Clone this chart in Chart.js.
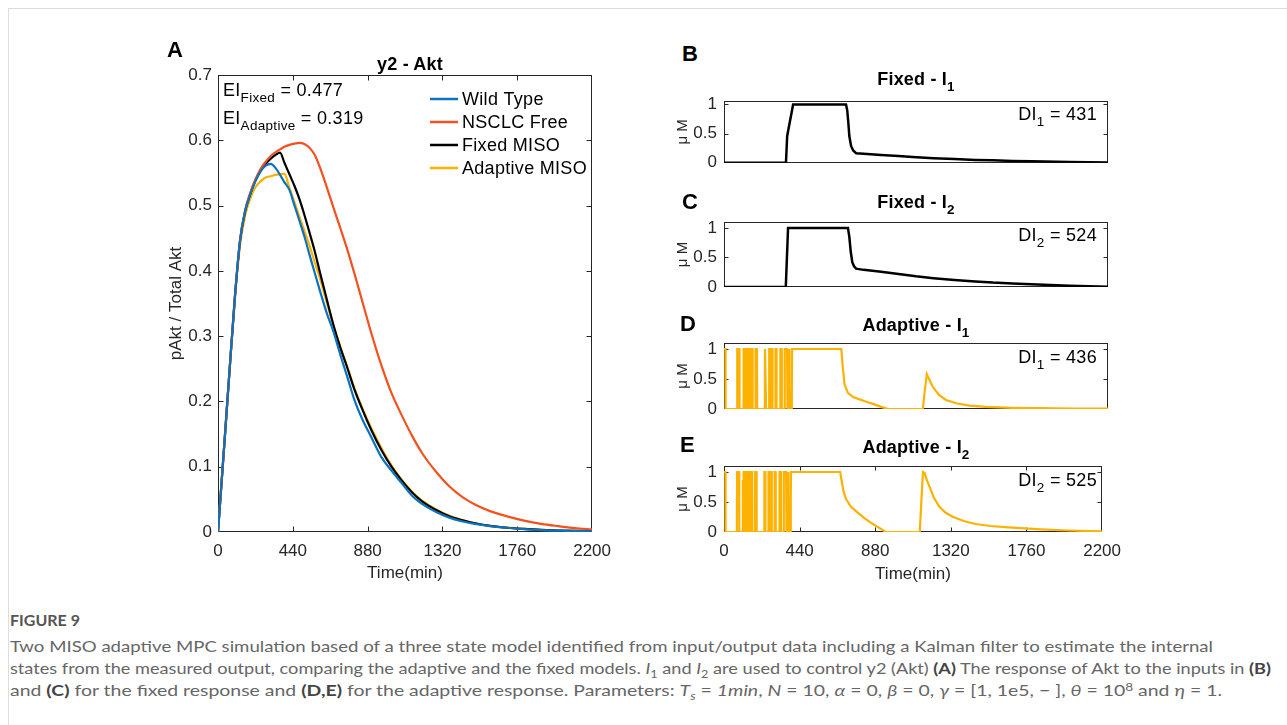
<!DOCTYPE html>
<html><head><meta charset="utf-8">
<script src="https://cdn.jsdelivr.net/npm/chart.js@4.4.1/dist/chart.umd.min.js"></script>
<style>
body{margin:0;background:#fff;width:1287px;height:725px;overflow:hidden;position:relative;font-family:"Liberation Sans",Arial,sans-serif;}
.frame{position:absolute;left:8px;top:8px;width:1290px;height:730px;border-top:1px solid #dcdcdc;border-left:1px solid #dcdcdc;}
canvas{position:absolute;}
.t{position:absolute;color:#000;font-size:18px;letter-spacing:0.3px;white-space:nowrap;line-height:1;}
.b{font-weight:bold;letter-spacing:0.2px;}
.sub{font-size:0.75em;position:relative;top:0.45em;}
.letter{position:absolute;font-weight:bold;font-size:22px;line-height:1;color:#000;}
.cap{position:absolute;left:10px;color:#666;font-family:Lato,"Open Sans",sans-serif;font-size:16px;white-space:nowrap;transform-origin:0 0;line-height:1;}
.cap b{color:#444;}
.cs{font-size:0.7em;position:relative;top:0.35em;}
.cp{font-size:0.7em;position:relative;top:-0.45em;}
</style></head><body>
<div class="frame"></div>
<canvas id="cA" width="470" height="560" style="left:150px;top:40px"></canvas>
<canvas id="cB" width="470" height="100" style="left:660px;top:80px"></canvas>
<canvas id="cC" width="470" height="105" style="left:660px;top:200px"></canvas>
<canvas id="cD" width="470" height="105" style="left:660px;top:322px"></canvas>
<canvas id="cE" width="470" height="150" style="left:660px;top:445px"></canvas>

<div class="letter" style="left:167px;top:39px">A</div>
<div class="letter" style="left:682px;top:43px">B</div>
<div class="letter" style="left:682px;top:191px">C</div>
<div class="letter" style="left:680px;top:313px">D</div>
<div class="letter" style="left:680px;top:434px">E</div>

<div class="t b" style="left:410px;top:55px;transform:translateX(-50%)">y2 - Akt</div>
<div class="t b" style="left:916px;top:70px;transform:translateX(-50%)">Fixed - I<span class="sub">1</span></div>
<div class="t b" style="left:916px;top:193px;transform:translateX(-50%)">Fixed - I<span class="sub">2</span></div>
<div class="t b" style="left:916px;top:316px;transform:translateX(-50%)">Adaptive - I<span class="sub">1</span></div>
<div class="t b" style="left:916px;top:438px;transform:translateX(-50%)">Adaptive - I<span class="sub">2</span></div>

<div class="t" style="left:223px;top:81px">EI<span class="sub">Fixed</span> = 0.477</div>
<div class="t" style="left:223px;top:109px">EI<span class="sub">Adaptive</span> = 0.319</div>

<div class="t" style="right:190px;top:105px">DI<span class="sub">1</span> = 431</div>
<div class="t" style="right:190px;top:226px">DI<span class="sub">2</span> = 524</div>
<div class="t" style="right:190px;top:348px">DI<span class="sub">1</span> = 436</div>
<div class="t" style="right:190px;top:471px">DI<span class="sub">2</span> = 525</div>

<div class="cap" id="fig" style="top:612px;color:#555;font-weight:bold;font-size:16px">FIGURE 9</div>
<div class="cap" id="l1" data-w="1203" style="top:638px">Two MISO adaptive MPC simulation based of a three state model identified from input/output data including a Kalman filter to estimate the internal</div>
<div class="cap" id="l2" data-w="1261" style="top:660px">states from the measured output, comparing the adaptive and the fixed models. <i>I</i><span class="cs">1</span> and <i>I</i><span class="cs">2</span> are used to control y2 (Akt) <b>(A)</b> The response of Akt to the inputs in <b>(B)</b></div>
<div class="cap" id="l3" data-w="1212" style="top:682px">and <b>(C)</b> for the fixed response and <b>(D,E)</b> for the adaptive response. Parameters: <i>T</i><span class="cs"><i>s</i></span> = <i>1min</i>, <i>N</i> = 10, <i>α</i> = 0, <i>β</i> = 0, <i>γ</i> = [1, 1e5, − ], <i>θ</i> = 10<span class="cp">8</span> and <i>η</i> = 1.</div>

<script>
// ---------- Panel A data ----------
const timeA = [0,10,40,70,100,130,160,190,220,250,280,310,340,365,390,420,450,480,510,540,570,600,640,680,720,760,800,850,900,960,1020,1080,1140,1200,1280,1360,1440,1520,1600,1700,1800,1900,2000,2100,2200];
const wildType = [0,0.036,0.145,0.255,0.362,0.447,0.492,0.517,0.537,0.552,0.561,0.564,0.557,0.547,0.536,0.524,0.500,0.476,0.451,0.423,0.396,0.369,0.335,0.306,0.271,0.238,0.204,0.172,0.146,0.115,0.094,0.075,0.056,0.043,0.031,0.022,0.016,0.012,0.009,0.0065,0.0045,0.003,0.002,0.0015,0.001];
const nsclcFree = [0,0.036,0.145,0.255,0.362,0.447,0.493,0.520,0.540,0.556,0.567,0.576,0.582,0.586,0.590,0.593,0.595,0.596,0.594,0.588,0.577,0.558,0.528,0.496,0.465,0.433,0.398,0.352,0.306,0.256,0.213,0.179,0.148,0.121,0.093,0.070,0.053,0.041,0.032,0.024,0.0175,0.0125,0.009,0.006,0.004];
const fixedMISO = [0,0.036,0.145,0.255,0.362,0.447,0.492,0.518,0.539,0.554,0.564,0.572,0.578,0.581,0.566,0.548,0.530,0.509,0.484,0.457,0.429,0.397,0.356,0.316,0.282,0.252,0.220,0.187,0.157,0.126,0.100,0.079,0.061,0.047,0.034,0.024,0.018,0.013,0.0095,0.0065,0.0047,0.0033,0.0023,0.0016,0.0011];
const adaptiveMISO = [0,0.036,0.145,0.255,0.360,0.440,0.485,0.511,0.528,0.537,0.543,0.545,0.547,0.548,0.549,0.527,0.505,0.482,0.460,0.437,0.412,0.388,0.351,0.316,0.283,0.253,0.222,0.189,0.160,0.129,0.102,0.080,0.062,0.048,0.035,0.025,0.018,0.013,0.0095,0.0066,0.0047,0.0033,0.0023,0.0016,0.0011];
const seriesNamesA = ['Wild Type','NSCLC Free','Fixed MISO','Adaptive MISO'];
const yTicksA = [0,0.1,0.2,0.3,0.4,0.5,0.6,0.7];
const xTicks = [0,440,880,1320,1760,2200];

// ---------- Panel B: Fixed I1 ----------
const fixedI1_t = [0,355,362,396,699,706,712,718,728,740,757,800,900,1000,1081,1200,1320,1440,1540,1653,1760,1980,2200];
const fixedI1_v = [0,0,0.46,1,1,0.9,0.7,0.46,0.29,0.21,0.165,0.155,0.135,0.115,0.1,0.08,0.064,0.05,0.042,0.033,0.026,0.014,0.006];
// ---------- Panel C: Fixed I2 ----------
const fixedI2_t = [0,354,367,710,718,726,735,745,757,800,900,1000,1100,1200,1320,1440,1540,1653,1760,1980,2200];
const fixedI2_v = [0,0,1,1,0.85,0.6,0.42,0.35,0.31,0.29,0.26,0.22,0.18,0.15,0.12,0.095,0.075,0.06,0.045,0.02,0.005];
// ---------- Panel D: Adaptive I1 ----------
const adaptI1_t = [0,8,9,75,76,88,89,
109,110,113,114,118,119,127,128,135,136,140,141,147,148,
156,157,163,164,180,181,189,190,
234,235,240,241,258,259,265,266,
270,271,277,278,294,295,300,301,
322,323,330,331,
347,348,361,362,
366,367,369,372,373,374,376,379,380,383,386,388,389,390,
672,680,691,710,739,777,815,853,900,940,1139,1150,1162,1175,1196,1230,1272,1330,1406,1500,1651,1800,2000,2200];
const adaptI1_v = [1,1,0,0,1,1,0,
0,0.65,0.65,1,1,0,0,1,1,0,0,1,1,0,
0,1,1,0,0,1,1,0,
0,1,1,0,0,1,1,0,
0,1,1,0,0,1,1,0,
0,1,1,0,
0,1,1,0,
0,0.33,0,0.33,1,0,0.33,0,0.33,0,0.33,0,0.33,1,
1,0.72,0.4,0.27,0.2,0.16,0.12,0.085,0.035,0,0,0.3,0.58,0.5,0.37,0.24,0.15,0.095,0.055,0.035,0.02,0.013,0.008,0.005];
// ---------- Panel E: Adaptive I2 ----------
const adaptI2_t = [0,8,9,75,76,88,89,
109,110,113,114,118,119,127,128,135,136,140,141,147,148,
156,157,163,164,180,181,189,190,
234,235,240,241,258,259,265,266,
270,271,277,278,294,295,300,301,
322,323,330,331,
347,348,361,362,
366,367,369,372,373,374,376,379,380,383,386,388,389,390,
676,685,695,710,739,780,815,850,891,920,940,1139,1150,1158,1168,1180,1196,1220,1253,1290,1330,1400,1463,1550,1653,1750,1844,2000,2200];
const adaptI2_v = [1,1,0,0,1,1,0,
0,0.85,0.85,1,1,0,0,1,1,0,0,1,1,0,
0,1,1,0,0,1,1,0,
0,1,1,0,0,1,1,0,
0,1,1,0,0,1,1,0,
0,1,1,0,
0,1,1,0,
0,0.6,0,0.6,1,0,0.6,0,0.6,0,0.6,0,0.6,1,
1,0.85,0.68,0.55,0.42,0.32,0.235,0.165,0.09,0.04,0,0,0.6,1,0.98,0.87,0.755,0.58,0.42,0.32,0.255,0.18,0.133,0.1,0.078,0.06,0.045,0.025,0.01];
const yTicksSmall = [0,0.5,1];

// ---------- Colours ----------
const C_BLUE='#0b72bf', C_ORANGE='#f4511e', C_BLACK='#000000', C_AMBER='#fdb100', AX='#262626';
const FONT = '"Liberation Sans", Arial, sans-serif';

function pts(xs, ys){ return xs.map((x,i)=>({x:x, y:ys[i]})); }

const matlabAxes = {
  id:'matlabAxes',
  beforeDatasetsDraw(chart, args, o){
    const {ctx, chartArea:a, scales:{x,y}} = chart;
    ctx.save();
    ctx.strokeStyle = AX; ctx.lineWidth = 1;
    const L = Math.round(a.left)+0.5, R = Math.round(a.right)-0.5, T = Math.round(a.top)+0.5, B = Math.round(a.bottom)-0.5;
    ctx.strokeRect(L, T, R-L, B-T);
    const len = o.len || 5;
    ctx.beginPath();
    if (o.xTicks) x.ticks.forEach(t=>{ const p=Math.round(x.getPixelForValue(t.value))+0.5; if(p<=L+1||p>=R-1) return; ctx.moveTo(p,B); ctx.lineTo(p,B-len); ctx.moveTo(p,T); ctx.lineTo(p,T+len); });
    y.ticks.forEach(t=>{ const p=Math.round(y.getPixelForValue(t.value))+0.5; if(p<=T+1||p>=B-1) return; ctx.moveTo(L,p); ctx.lineTo(L+len,p); ctx.moveTo(R,p); ctx.lineTo(R-len,p); });
    ctx.stroke();
    ctx.restore();
  }
};
const inLegend = {
  id:'inLegend',
  afterDatasetsDraw(chart, args, o){
    if(!o || !o.show) return;
    const ctx = chart.ctx; ctx.save();
    ctx.font = '18px ' + FONT; ctx.textBaseline='middle'; ctx.textAlign='left';
    try { ctx.letterSpacing = '0.3px'; } catch(e) {}
    chart.data.datasets.forEach((ds,i)=>{
      const yy = o.y + i*o.dy;
      ctx.strokeStyle = ds.borderColor; ctx.lineWidth = 2.5;
      ctx.beginPath(); ctx.moveTo(o.x, yy); ctx.lineTo(o.x+o.w, yy); ctx.stroke();
      ctx.fillStyle = '#000'; ctx.fillText(ds.label, o.x+o.w+4, yy+1);
    });
    ctx.restore();
  }
};

function tickFix(vals){ return function(scale){ scale.ticks = vals.map(v=>({value:v})); }; }

// ---------- Panel A ----------
new Chart(document.getElementById('cA'), {
  type:'line',
  data:{ datasets:[
    {label:seriesNamesA[0], data:pts(timeA,wildType), borderColor:C_BLUE},
    {label:seriesNamesA[1], data:pts(timeA,nsclcFree), borderColor:C_ORANGE},
    {label:seriesNamesA[2], data:pts(timeA,fixedMISO), borderColor:C_BLACK},
    {label:seriesNamesA[3], data:pts(timeA,adaptiveMISO), borderColor:C_AMBER}
  ].map(d=>Object.assign(d,{borderWidth:2.2, pointRadius:0, cubicInterpolationMode:'monotone', fill:false}))},
  options:{
    responsive:false, animation:false, devicePixelRatio:1,
    layout:{padding:{left:0, top:35, right:18, bottom:0}},
    plugins:{legend:{display:false}, tooltip:{enabled:false},
      inLegend:{show:true, x:280, y:59, dy:23, w:28}, matlabAxes:{xTicks:true, len:5}},
    scales:{
      x:{type:'linear', min:0, max:2200, afterFit(s){s.height=68;}, afterBuildTicks:tickFix(xTicks),
         ticks:{color:AX, font:{size:17, family:FONT}, padding:9, maxRotation:0, autoSkip:false, callback:v=>String(v)},
         grid:{display:false, drawTicks:false}, border:{display:false},
         title:{display:true, text:'Time(min)', color:AX, font:{size:17, family:FONT}, padding:{top:0,bottom:16}}},
      y:{type:'linear', min:0, max:0.7, afterFit(s){s.width=68;}, afterBuildTicks:tickFix(yTicksA),
         ticks:{color:AX, font:{size:17, family:FONT}, padding:6, callback:v=>String(Math.round(v*10)/10)},
         grid:{display:false, drawTicks:false}, border:{display:false},
         title:{display:true, text:'pAkt / Total Akt', color:AX, font:{size:17, family:FONT}, padding:{top:16,bottom:0}}}
    }
  },
  plugins:[matlabAxes, inLegend]
});

// ---------- small panels ----------
function small(id, t, v, color, areaTop, xAxisH, ymax, showX, lw){
  new Chart(document.getElementById(id), {
    type:'line',
    data:{datasets:[{label:id, data:pts(t,v), borderColor:color, borderWidth:lw, pointRadius:0, tension:0, fill:false}]},
    options:{
      responsive:false, animation:false, devicePixelRatio:1,
      layout:{padding:{left:0, top:areaTop, right:22, bottom:0}},
      plugins:{legend:{display:false}, tooltip:{enabled:false}, matlabAxes:{xTicks:showX, len:4}},
      scales:{
        x:{type:'linear', min:0, max:2200, afterFit(s){s.height=xAxisH;}, afterBuildTicks:tickFix(xTicks),
           ticks:{display:showX, color:AX, font:{size:17, family:FONT}, padding:9, maxRotation:0, autoSkip:false, callback:v=>String(v)},
           grid:{display:false, drawTicks:false}, border:{display:false},
           title:{display:showX, text:'Time(min)', color:AX, font:{size:17, family:FONT}, padding:{top:0,bottom:10}}},
        y:{type:'linear', min:0, max:ymax, afterFit(s){s.width=64;}, afterBuildTicks:tickFix(yTicksSmall),
           ticks:{color:AX, font:{size:17, family:FONT}, padding:7, callback:v=>String(v)},
           grid:{display:false, drawTicks:false}, border:{display:false},
           title:{display:true, text:'μ M', color:AX, font:{size:15, family:FONT}, padding:{top:14,bottom:0}}}
      }
    },
    plugins:[matlabAxes]
  });
}
small('cB', fixedI1_t, fixedI1_v, C_BLACK, 21, 16, 1.06, false, 2.5);
small('cC', fixedI2_t, fixedI2_v, C_BLACK, 22, 18, 1.1, false, 2.5);
small('cD', adaptI1_t, adaptI1_v, C_AMBER, 21, 18, 1.1, false, 2.2);
small('cE', adaptI2_t, adaptI2_v, C_AMBER, 21, 63, 1.1, true, 2.2);

// caption widths
['l1','l2','l3'].forEach(id=>{
  const el=document.getElementById(id); const w=el.getBoundingClientRect().width; const tw=+el.dataset.w;
  el.style.transform='scaleX('+(tw/w)+')';
});
</script>
</body></html>
